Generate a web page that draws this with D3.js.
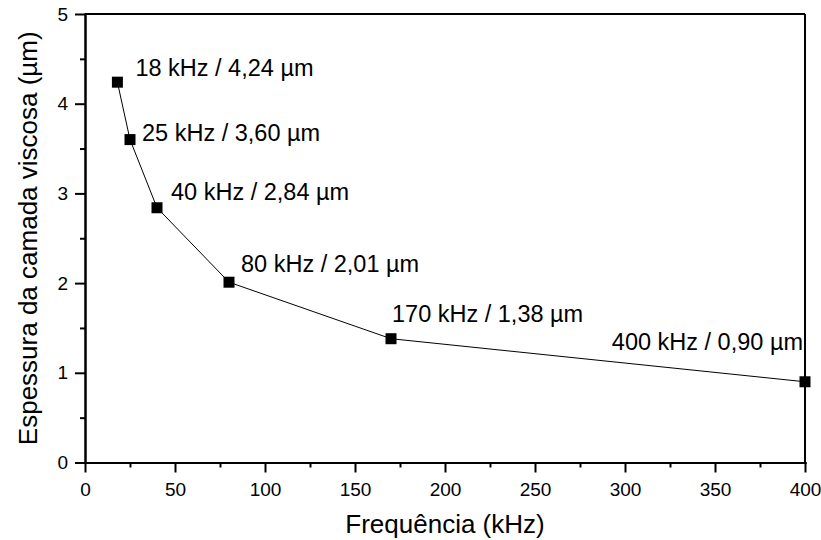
<html>
  <head>
    <script src="https://cdn.jsdelivr.net/npm/d3@7/dist/d3.min.js"></script>
    <style>
      * {
        margin: 0;
        padding: 0;
      }
      body {
        background-color: white;
      }
      svg {
        font-family: "Liberation Sans", Arial, sans-serif;
      }
      .axis path,
      .axis line {
        stroke: black;
        stroke-width: 2px;
      }
      .axis text {
        font-size: 19px;
        fill: black;
      }
    </style>
  </head>
  <body>
    <div id="chart"></div>
    <script>
      // data
      const freqs = [18, 25, 40, 80, 170, 400];
      const thickness = [4.24, 3.6, 2.84, 2.01, 1.38, 0.9];
      const labels = [
        "18 kHz / 4,24 µm",
        "25 kHz / 3,60 µm",
        "40 kHz / 2,84 µm",
        "80 kHz / 2,01 µm",
        "170 kHz / 1,38 µm",
        "400 kHz / 0,90 µm",
      ];
      const xTicks = [0, 50, 100, 150, 200, 250, 300, 350, 400];
      const yTicks = [0, 1, 2, 3, 4, 5];

      // where each annotation sits relative to its point (px)
      const labelDx = [18, 12, 14, 12, 1, -2];
      const labelDy = [-6, 1.5, -8, -10.5, -17, -32];
      const labelAnchor = ["start", "start", "start", "start", "start", "end"];

      const w = 821;
      const h = 540;
      const pLeft = 85,
        pRight = 805,
        pTop = 14,
        pBottom = 462.5;

      const x = d3.scaleLinear().domain([0, 400]).range([pLeft, pRight]);
      const y = d3.scaleLinear().domain([0, 5]).range([pBottom, pTop]);

      const svg = d3
        .select("#chart")
        .append("svg")
        .attr("width", w)
        .attr("height", h);

      // frame on top and right
      svg
        .append("line")
        .attr("x1", pLeft)
        .attr("x2", pRight)
        .attr("y1", pTop)
        .attr("y2", pTop)
        .attr("stroke", "black")
        .attr("stroke-width", 2);
      svg
        .append("line")
        .attr("x1", pRight)
        .attr("x2", pRight)
        .attr("y1", pTop)
        .attr("y2", pBottom)
        .attr("stroke", "black")
        .attr("stroke-width", 2);

      // minor ticks
      const xMinor = xTicks.slice(0, -1).map((d) => d + 25);
      const yMinor = yTicks.slice(0, -1).map((d) => d + 0.5);

      svg
        .append("g")
        .attr("class", "axis")
        .attr("transform", "translate(0," + pBottom + ")")
        .call(
          d3.axisBottom(x).tickValues(xMinor).tickSize(5).tickSizeOuter(0).tickFormat("")
        );
      svg
        .append("g")
        .attr("class", "axis")
        .attr("transform", "translate(" + pLeft + ",0)")
        .call(
          d3.axisLeft(y).tickValues(yMinor).tickSize(5).tickSizeOuter(0).tickFormat("")
        );

      svg
        .append("g")
        .attr("class", "axis")
        .attr("transform", "translate(0," + pBottom + ")")
        .call(
          d3.axisBottom(x).tickValues(xTicks).tickSize(10).tickSizeOuter(0).tickPadding(10)
        );
      svg
        .append("g")
        .attr("class", "axis")
        .attr("transform", "translate(" + pLeft + ",0)")
        .call(
          d3
            .axisLeft(y)
            .tickValues(yTicks)
            .tickSize(10)
            .tickSizeOuter(0)
            .tickPadding(7)
            .tickFormat(d3.format("d"))
        );

      svg.selectAll(".axis .domain").attr("stroke-linecap", "square");

      // axis titles
      svg
        .append("text")
        .attr("x", (pLeft + pRight) / 2)
        .attr("y", 533)
        .attr("text-anchor", "middle")
        .attr("font-size", 26)
        .text("Frequência (kHz)");
      svg
        .append("text")
        .attr("transform", "translate(37," + (pTop + pBottom) / 2 + ") rotate(-90)")
        .attr("text-anchor", "middle")
        .attr("font-size", 26)
        .text("Espessura da camada viscosa (µm)");

      const pts = freqs.map((f, i) => ({ f, t: thickness[i], label: labels[i], i }));

      svg
        .append("path")
        .datum(pts)
        .attr("fill", "none")
        .attr("stroke", "black")
        .attr("stroke-width", 1)
        .attr(
          "d",
          d3
            .line()
            .x((d) => x(d.f))
            .y((d) => y(d.t))
        );

      const s = 11;
      svg
        .selectAll(".dot")
        .data(pts)
        .enter()
        .append("rect")
        .attr("class", "dot")
        .attr("x", (d) => x(d.f) - s / 2)
        .attr("y", (d) => y(d.t) - s / 2)
        .attr("width", s)
        .attr("height", s)
        .attr("fill", "black");

      svg
        .selectAll(".lbl")
        .data(pts)
        .enter()
        .append("text")
        .attr("class", "lbl")
        .attr("x", (d) => x(d.f) + labelDx[d.i])
        .attr("y", (d) => y(d.t) + labelDy[d.i])
        .attr("text-anchor", (d) => labelAnchor[d.i])
        .attr("font-size", 23.5)
        .text((d) => d.label);
    </script>
  </body>
</html>
